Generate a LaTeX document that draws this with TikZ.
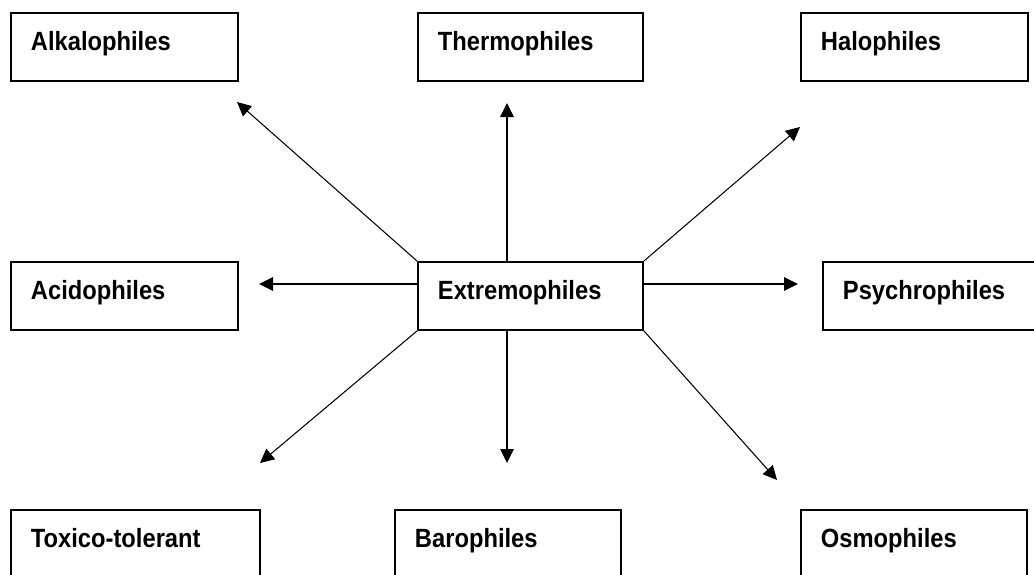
\documentclass[tikz,border=0pt]{standalone}
\usepackage{fontspec}
\setmainfont{Liberation Sans}
\newfontfamily\boxfont[FakeStretch=0.9]{Liberation Sans}
\usetikzlibrary{arrows.meta}

\begin{document}
\begin{tikzpicture}[
        group/.style={rectangle, draw, line width=1.1pt, anchor=north west, inner xsep=0.4cm, inner ysep=0pt,
            text height=0.76cm, text depth=0.6cm, text width=#1, align=left,
            font=\boxfont\bfseries\fontsize{15}{18}\selectfont},
        group/.default=3.74cm,
        line/.style={draw, line width=0.6pt, -{Triangle[length=0.28cm, width=0.27cm]}}
    ]
        \useasboundingbox (0,0) rectangle (20.68,11.48);

        \node[group] (alka) at (0.2, 11.24) {Alkalophiles};
        \node[group=3.7cm] (thermo) at (8.34, 11.24) {Thermophiles};
        \node[group] (halo) at (16.0, 11.24) {Halophiles};

        \node[group] (acido) at (0.2, 6.26) {Acidophiles};
        \node[group=3.7cm] (extremo) at (8.34, 6.26) {Extremophiles};
        \node[group=3.7cm] (psychro) at (16.44, 6.26) {Psychrophiles};

        \node[group=4.18cm] (toxico) at (0.2, 1.3) {Toxico-tolerant};
        \node[group=3.72cm] (baro) at (7.88, 1.3) {Barophiles};
        \node[group=3.72cm] (osmo) at (16.0, 1.3) {Osmophiles};

        % arrow tips stop short of the boxes
        \coordinate (t-alka) at (4.74, 9.44);
        \coordinate (t-thermo) at (10.14, 9.42);
        \coordinate (t-halo) at (16.0, 8.94);
        \coordinate (t-acido) at (5.18, 5.8);
        \coordinate (t-psychro) at (15.96, 5.8);
        \coordinate (t-toxico) at (5.2, 2.22);
        \coordinate (t-baro) at (10.14, 2.22);
        \coordinate (t-osmo) at (15.54, 1.88);

        \draw[line] (extremo.north west) -- (t-alka);
        \draw[line] (extremo.north -| t-thermo) -- (t-thermo);
        \draw[line] (extremo.north east) -- (t-halo);
        \draw[line] (extremo.west |- t-acido) -- (t-acido);
        \draw[line] (extremo.east |- t-psychro) -- (t-psychro);
        \draw[line] (extremo.south west) -- (t-toxico);
        \draw[line] (extremo.south -| t-baro) -- (t-baro);
        \draw[line] (extremo.south east) -- (t-osmo);
    \end{tikzpicture}
\end{document}
